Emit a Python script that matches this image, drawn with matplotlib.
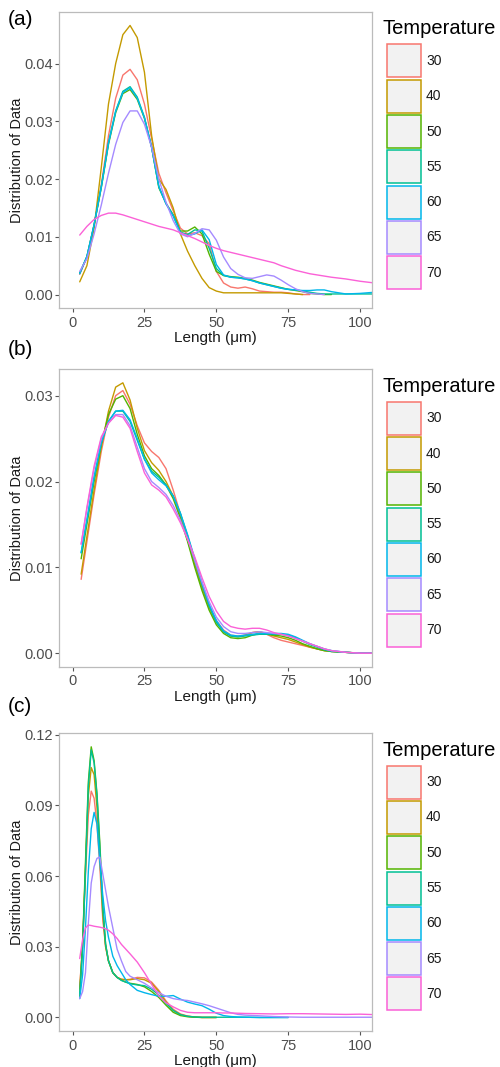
import numpy as np
import matplotlib
matplotlib.use("Agg")
import matplotlib.pyplot as plt
from matplotlib.patches import Rectangle

plt.rcParams['font.family'] = ['Liberation Sans', 'DejaVu Sans']

# ---------------- data ----------------
temperatures = ['30', '40', '50', '55', '60', '65', '70']
colors = ['#F8766D', '#C49A00', '#53B400', '#00C094', '#00B6EB', '#A58AFF', '#FB61D7']

x_ticks = [0, 25, 50, 75, 100]
a_yticks = [0.00, 0.01, 0.02, 0.03, 0.04]
b_yticks = [0.00, 0.01, 0.02, 0.03]
c_yticks = [0.00, 0.03, 0.06, 0.09, 0.12]

# panel (a)
xa = [2.5, 5, 7.5, 10, 12.5, 15, 17.5, 20, 22.5, 25, 27.5, 30, 32.5, 35, 37.5, 40, 42.5, 45,
      47.5, 50, 52.5, 55, 57.5, 60, 62.5, 65, 67.5, 70, 72.5, 75, 77.5, 80, 82.5, 85, 87.5,
      90, 95, 100, 105]
a30 = [0.0035, 0.0065, 0.0120, 0.0190, 0.0275, 0.0340, 0.0380, 0.0390, 0.0372, 0.0330, 0.0270,
       0.0210, 0.0176, 0.0145, 0.0115, 0.0105, 0.0107, 0.0102, 0.0088, 0.0040, 0.0020, 0.0013,
       0.0011, 0.0013, 0.0010, 0.0006, 0.0005, 0.0004, 0.0004, 0.0003, 0.0001, 0.0, 0.0]
a40 = [0.0022, 0.0050, 0.0115, 0.0220, 0.0330, 0.0400, 0.0450, 0.0466, 0.0445, 0.0385, 0.0275,
       0.0200, 0.0182, 0.0150, 0.0105, 0.0075, 0.0050, 0.0028, 0.0012, 0.0006, 0.0003, 0.0003,
       0.0003, 0.0003, 0.0003, 0.0003, 0.0003, 0.0003, 0.0003, 0.0002, 0.0001, 0.0]
a50 = [0.0037, 0.0065, 0.0120, 0.0185, 0.0260, 0.0315, 0.0348, 0.0355, 0.0338, 0.0305, 0.0255,
       0.0185, 0.0158, 0.0138, 0.0110, 0.0110, 0.0117, 0.0105, 0.0070, 0.0040, 0.0033, 0.0031,
       0.0030, 0.0028, 0.0025, 0.0021, 0.0018, 0.0015, 0.0012, 0.0009, 0.0007, 0.0005, 0.0002,
       0.0001, 0.0, 0.0]
a55 = [0.0037, 0.0066, 0.0121, 0.0187, 0.0263, 0.0318, 0.0352, 0.0360, 0.0342, 0.0307, 0.0255,
       0.0187, 0.0158, 0.0137, 0.0108, 0.0104, 0.0112, 0.0110, 0.0080, 0.0045, 0.0033, 0.0030,
       0.0029, 0.0027, 0.0024, 0.0020, 0.0017, 0.0014, 0.0011, 0.0009, 0.0008, 0.0006, 0.0004,
       0.0002, 0.0001, 0.0001, 0.0001, 0.0001, 0.0001]
a60 = [0.0036, 0.0066, 0.0121, 0.0186, 0.0262, 0.0317, 0.0350, 0.0358, 0.0340, 0.0306, 0.0255,
       0.0187, 0.0157, 0.0136, 0.0107, 0.0102, 0.0105, 0.0112, 0.0095, 0.0052, 0.0034, 0.0030,
       0.0029, 0.0027, 0.0024, 0.0020, 0.0017, 0.0014, 0.0011, 0.0009, 0.0008, 0.0007, 0.0007,
       0.0008, 0.0008, 0.0005, 0.0001, 0.0002, 0.0004]
a65 = [0.0040, 0.0062, 0.0105, 0.0155, 0.0210, 0.0260, 0.0298, 0.0318, 0.0318, 0.0295, 0.0255,
       0.0200, 0.0160, 0.0128, 0.0105, 0.0100, 0.0106, 0.0114, 0.0112, 0.0094, 0.0065, 0.0045,
       0.0035, 0.0029, 0.0028, 0.0031, 0.0034, 0.0032, 0.0025, 0.0017, 0.0010, 0.0005, 0.0002,
       0.0001, 0.0]
a70 = [0.0103, 0.0118, 0.0130, 0.0137, 0.0141, 0.0141, 0.0138, 0.0134, 0.0130, 0.0126, 0.0122,
       0.0118, 0.0115, 0.0112, 0.0107, 0.0102, 0.0097, 0.0091, 0.0085, 0.0080, 0.0076, 0.0073,
       0.0070, 0.0067, 0.0064, 0.0061, 0.0058, 0.0055, 0.0050, 0.0046, 0.0042, 0.0039, 0.0036,
       0.0034, 0.0032, 0.0030, 0.0027, 0.0023, 0.0020]

# panel (b)
xb = [3, 5, 7.5, 10, 12.5, 15, 17.5, 20, 22.5, 25, 27.5, 30, 32.5, 35, 37.5, 40, 42.5, 45,
      47.5, 50, 52.5, 55, 57.5, 60, 62.5, 65, 67.5, 70, 72.5, 75, 77.5, 80, 82.5, 85, 87.5,
      90, 95, 100, 105]
b30 = [0.0086, 0.0130, 0.0185, 0.0235, 0.0275, 0.0300, 0.0306, 0.0290, 0.0265, 0.0245, 0.0235,
       0.0228, 0.0215, 0.0190, 0.0162, 0.0133, 0.0105, 0.0078, 0.0055, 0.0038, 0.0027, 0.0021,
       0.0020, 0.0021, 0.0024, 0.0025, 0.0022, 0.0018, 0.0015, 0.0013, 0.0011, 0.0009, 0.0007,
       0.0005, 0.0003, 0.0002, 0.0001, 0.0, 0.0]
b40 = [0.0092, 0.0136, 0.0190, 0.0240, 0.0282, 0.0310, 0.0315, 0.0295, 0.0262, 0.0236, 0.0222,
       0.0213, 0.0200, 0.0183, 0.0160, 0.0132, 0.0103, 0.0076, 0.0053, 0.0036, 0.0025, 0.0020,
       0.0019, 0.0021, 0.0024, 0.0025, 0.0023, 0.0020, 0.0018, 0.0016, 0.0013, 0.0010, 0.0007,
       0.0005, 0.0003, 0.0002, 0.0001, 0.0, 0.0]
b50 = [0.0110, 0.0150, 0.0200, 0.0243, 0.0278, 0.0296, 0.0300, 0.0285, 0.0255, 0.0230, 0.0215,
       0.0207, 0.0196, 0.0180, 0.0157, 0.0130, 0.0100, 0.0073, 0.0050, 0.0033, 0.0023, 0.0018,
       0.0017, 0.0018, 0.0021, 0.0023, 0.0022, 0.0021, 0.0020, 0.0018, 0.0015, 0.0011, 0.0008,
       0.0005, 0.0003, 0.0002, 0.0001, 0.0, 0.0]
b55 = [0.0117, 0.0155, 0.0205, 0.0245, 0.0270, 0.0282, 0.0282, 0.0270, 0.0248, 0.0226, 0.0212,
       0.0205, 0.0196, 0.0183, 0.0163, 0.0137, 0.0108, 0.0080, 0.0055, 0.0036, 0.0025, 0.0020,
       0.0019, 0.0020, 0.0021, 0.0022, 0.0022, 0.0022, 0.0022, 0.0021, 0.0018, 0.0014, 0.0010,
       0.0007, 0.0004, 0.0002, 0.0001, 0.0, 0.0]
b60 = [0.0117, 0.0155, 0.0205, 0.0245, 0.0270, 0.0282, 0.0283, 0.0272, 0.0250, 0.0226, 0.0210,
       0.0202, 0.0195, 0.0183, 0.0163, 0.0138, 0.0110, 0.0082, 0.0057, 0.0038, 0.0026, 0.0021,
       0.0020, 0.0021, 0.0022, 0.0023, 0.0023, 0.0023, 0.0023, 0.0022, 0.0019, 0.0015, 0.0011,
       0.0008, 0.0005, 0.0003, 0.0001, 0.0, 0.0]
b65 = [0.0127, 0.0168, 0.0215, 0.0250, 0.0268, 0.0278, 0.0278, 0.0265, 0.0240, 0.0215, 0.0200,
       0.0193, 0.0185, 0.0172, 0.0155, 0.0133, 0.0108, 0.0083, 0.0060, 0.0042, 0.0031, 0.0025,
       0.0023, 0.0023, 0.0024, 0.0025, 0.0024, 0.0023, 0.0022, 0.0020, 0.0017, 0.0014, 0.0011,
       0.0008, 0.0005, 0.0003, 0.0001, 0.0, 0.0]
b70 = [0.0127, 0.0170, 0.0218, 0.0252, 0.0268, 0.0277, 0.0275, 0.0262, 0.0235, 0.0210, 0.0196,
       0.0190, 0.0182, 0.0168, 0.0152, 0.0133, 0.0112, 0.0088, 0.0066, 0.0049, 0.0037, 0.0031,
       0.0029, 0.0028, 0.0029, 0.0029, 0.0027, 0.0024, 0.0022, 0.0020, 0.0017, 0.0014, 0.0011,
       0.0008, 0.0005, 0.0003, 0.0001, 0.0, 0.0]

# panel (c)
xc = [2.5, 3.5, 4.5, 5.5, 6.5, 7.5, 8.5, 9.5, 10.5, 11.5, 12.5, 14, 15.5, 17, 18.5, 20, 22.5,
      25, 27.5, 30, 32.5, 35, 37.5, 40, 42.5, 45, 47.5, 50, 52.5, 55, 57.5, 60, 65, 70, 75,
      80, 85, 90, 95, 100, 105]
c30 = [0.013, 0.031, 0.060, 0.086, 0.096, 0.093, 0.082, 0.064, 0.042, 0.030, 0.024, 0.019,
       0.017, 0.0162, 0.016, 0.0162, 0.0170, 0.0168, 0.0150, 0.0115, 0.0070, 0.0035, 0.0015,
       0.0006, 0.0002, 0.0, 0.0, 0.0]
c40 = [0.012, 0.031, 0.063, 0.094, 0.106, 0.103, 0.089, 0.068, 0.044, 0.030, 0.024, 0.019,
       0.017, 0.0162, 0.016, 0.016, 0.0165, 0.016, 0.0145, 0.011, 0.0065, 0.003, 0.0012,
       0.0005, 0.0002, 0.0, 0.0, 0.0]
c50 = [0.009, 0.031, 0.066, 0.100, 0.1148, 0.109, 0.095, 0.074, 0.048, 0.031, 0.024, 0.019,
       0.017, 0.0158, 0.0150, 0.0145, 0.014, 0.013, 0.011, 0.0085, 0.0052, 0.0022, 0.0008,
       0.0003, 0.0001, 0.0, 0.0, 0.0]
c55 = [0.010, 0.029, 0.062, 0.098, 0.1135, 0.108, 0.094, 0.072, 0.047, 0.031, 0.024, 0.019,
       0.017, 0.0157, 0.015, 0.0143, 0.0138, 0.0135, 0.012, 0.0095, 0.006, 0.003, 0.0012,
       0.0005, 0.0002, 0.0001, 0.0001, 0.0001, 0.0001, 0.0001, 0.0001, 0.0001, 0.0, 0.0, 0.0]
c60 = [0.008, 0.018, 0.038, 0.062, 0.080, 0.087, 0.082, 0.066, 0.052, 0.041, 0.034, 0.026,
       0.022, 0.019, 0.016, 0.0140, 0.0115, 0.0105, 0.0097, 0.0090, 0.0090, 0.0093, 0.0078,
       0.0065, 0.0057, 0.0050, 0.0035, 0.0018, 0.0008, 0.0004, 0.0002, 0.0001, 0.0, 0.0, 0.0]
c65 = [0.008, 0.011, 0.019, 0.040, 0.057, 0.064, 0.0675, 0.068, 0.061, 0.054, 0.047, 0.038,
       0.029, 0.024, 0.0195, 0.0175, 0.0160, 0.0145, 0.0125, 0.0105, 0.0090, 0.0080, 0.0075,
       0.0072, 0.0065, 0.0058, 0.0050, 0.0040, 0.0030, 0.0020, 0.0013, 0.0010, 0.0007, 0.0004,
       0.0002, 0.0001, 0.0001, 0.0001, 0.0001, 0.0001, 0.0001]
c70 = [0.025, 0.033, 0.038, 0.0392, 0.039, 0.0387, 0.0385, 0.0383, 0.0380, 0.0376, 0.0370,
       0.0355, 0.0335, 0.0310, 0.0290, 0.0270, 0.0235, 0.0190, 0.0140, 0.0092, 0.0062, 0.0045,
       0.0030, 0.0022, 0.0020, 0.0020, 0.0020, 0.0020, 0.0019, 0.0019, 0.0018, 0.0017, 0.0016,
       0.0015, 0.0016, 0.0016, 0.0015, 0.0014, 0.0013, 0.0014, 0.0012]

panels = [
    ('(a)', xa, [a30, a40, a50, a55, a60, a65, a70], a_yticks),
    ('(b)', xb, [b30, b40, b50, b55, b60, b65, b70], b_yticks),
    ('(c)', xc, [c30, c40, c50, c55, c60, c65, c70], c_yticks),
]

# ---------------- layout (pixels) ----------------
W, H = 500, 1067
fig = plt.figure(figsize=(W / 100, H / 100), dpi=100)

def fx(px):
    return px / W

def fy(py):
    return 1 - py / H

ax_left, ax_right = 59, 372
panel_tops = [12, 369.3, 733.3]
panel_bottoms = [308, 666.7, 1031]
label_tops = [10, 340, 697]

border_col = '#BBBBBB'
tick_col = '#4D4D4D'

for (tag, xs, series, yticks), top, bot, ltop in zip(panels, panel_tops, panel_bottoms, label_tops):
    ax = fig.add_axes([fx(ax_left), fy(bot), (ax_right - ax_left) / W, (bot - top) / H])
    for t, col, ys in zip(temperatures, colors, series):
        ax.plot(xs[:len(ys)], ys, color=col, lw=1.0, solid_capstyle='round',
                solid_joinstyle='round')
    ymax = max(max(s) for s in series)
    ax.set_ylim(-0.05 * ymax, 1.05 * ymax)
    ax.set_xlim(-4.7, 104.1)
    ax.set_xticks(x_ticks)
    ax.set_xticklabels([str(v) for v in x_ticks])
    ax.set_yticks(yticks)
    ax.set_yticklabels(['%.2f' % v for v in yticks])
    for sp in ax.spines.values():
        sp.set_color(border_col)
        sp.set_linewidth(0.9)
    ax.tick_params(axis='both', colors='#555555', labelcolor=tick_col, labelsize=10.5,
                   length=3, width=0.8)
    ax.tick_params(axis='y', pad=1.5)
    ax.tick_params(axis='x', pad=2.5)

    # axis titles
    fig.text(fx((ax_left + ax_right) / 2), fy(bot + 23), 'Length (μm)', ha='center', va='top',
             fontsize=11, color='#1A1A1A')
    fig.text(fx(17), fy((top + bot) / 2), 'Distribution of Data', rotation=90, ha='center',
             va='center', fontsize=10.5, color='#1A1A1A')
    # panel tag
    fig.text(fx(8), fy(ltop), tag, ha='left', va='top', fontsize=15, color='black')

    # legend
    fig.text(fx(382.5), fy(top + 7.5), 'Temperature', ha='left', va='top', fontsize=14.5,
             color='black')
    key_w, key_h, step = 34, 33, 35.3
    for i, (t, col) in enumerate(zip(temperatures, colors)):
        ktop = top + 32.4 + i * step
        fig.add_artist(Rectangle((fx(386.7), fy(ktop + key_h)), key_w / W, key_h / H,
                                 transform=fig.transFigure, facecolor='#F2F2F2',
                                 edgecolor=col, linewidth=1.1))
        fig.text(fx(426), fy(ktop + key_h / 2), t, ha='left', va='center', fontsize=10,
                 color='#1A1A1A')

fig.savefig('out.png', dpi=100)
